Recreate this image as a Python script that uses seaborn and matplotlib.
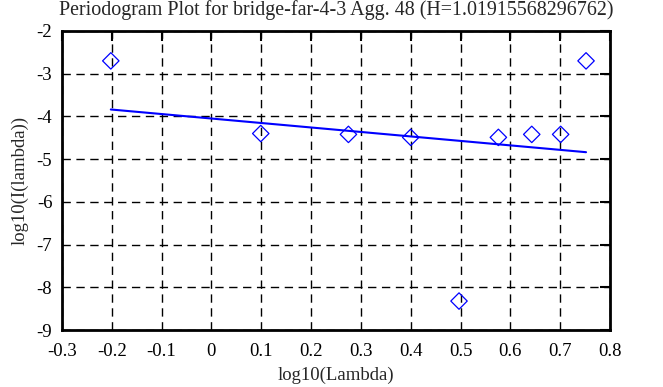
import numpy as np
import pandas as pd
import seaborn as sns
import matplotlib.pyplot as plt

# values
log_lambda = [-0.202, 0.099, 0.275, 0.400, 0.497, 0.576, 0.643, 0.701, 0.752]
log_I = [-2.70, -4.40, -4.42, -4.49, -8.32, -4.49, -4.42, -4.42, -2.70]
x_ticks = [-0.3, -0.2, -0.1, 0, 0.1, 0.2, 0.3, 0.4, 0.5, 0.6, 0.7, 0.8]
x_labels = ['-0.3', '-0.2', '-0.1', '0', '0.1', '0.2', '0.3', '0.4', '0.5', '0.6', '0.7', '0.8']
y_ticks = [-9, -8, -7, -6, -5, -4, -3, -2]
y_labels = ['-9', '-8', '-7', '-6', '-5', '-4', '-3', '-2']

df = pd.DataFrame({'x': log_lambda, 'y': log_I})

sns.set_style('white')
plt.rcParams['font.family'] = ['Liberation Serif', 'DejaVu Serif']
plt.rcParams['axes.unicode_minus'] = False

fig = plt.figure(figsize=(6.63, 3.87), dpi=100)
ax = fig.add_axes([0.0935, 0.147, 0.8265, 0.773])

# least squares fit line
sns.regplot(data=df, x='x', y='y', scatter=False, ci=None, truncate=True,
            line_kws={'color': '#0000ff', 'lw': 1.5}, ax=ax)
sns.scatterplot(data=df, x='x', y='y', marker='D', s=70, facecolor='none',
                edgecolor='#0000ff', linewidth=0.9, ax=ax, zorder=3)

ax.set_xlim(-0.3, 0.8)
ax.set_ylim(-9, -2)
ax.set_xticks(x_ticks)
ax.set_xticklabels(x_labels)
ax.set_yticks(y_ticks)
ax.set_yticklabels(y_labels)
ax.grid(True, color='black', linestyle=(0, (6, 4)), linewidth=1.0)
ax.tick_params(direction='in', length=7, width=1.5, top=True, right=True,
               labelsize=13.5, colors='black')
ax.tick_params(axis='x', pad=9)
ax.tick_params(axis='y', pad=7)
for sp in ax.spines.values():
    sp.set_linewidth(2)
    sp.set_color('black')

ax.set_xlabel('log10(Lambda)', fontsize=13.5, labelpad=5)
ax.set_ylabel('log10(I(lambda))', fontsize=13.5, labelpad=6)
fig.text(336 / 663, 1 - 10 / 387,
         'Periodogram Plot for bridge-far-4-3 Agg. 48 (H=1.01915568296762)',
         fontsize=14.4, ha='center', va='center')

plt.savefig('out.png', dpi=100)
